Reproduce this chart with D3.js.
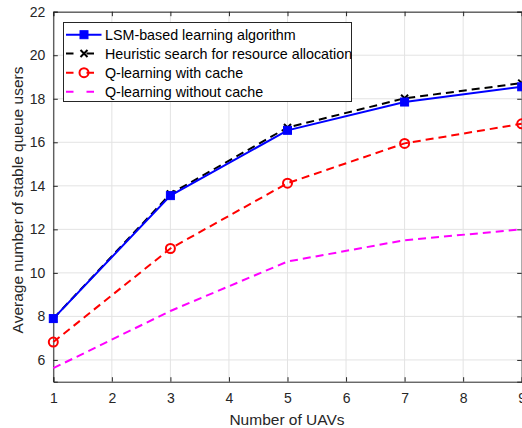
<!DOCTYPE html>
<html>
<head>
<meta charset="utf-8">
<script src="https://cdn.jsdelivr.net/npm/d3@7"></script>
<style>
  html, body { margin: 0; padding: 0; background: #fff; }
  svg { display: block; font-family: "Liberation Sans", Arial, sans-serif; }
</style>
</head>
<body>
<svg id="chart" width="522" height="428"></svg>
<script>
// === DATA ===
const uavs = [1, 3, 5, 7, 9];
const lsm = [7.9, 13.55, 16.55, 17.85, 18.55];
const heuristic = [7.9, 13.63, 16.68, 18.02, 18.72];
const qCache = [6.82, 11.12, 14.12, 15.95, 16.85];
const qNoCache = [5.62, 8.25, 10.52, 11.5, 12.0];
const xTicks = [1, 2, 3, 4, 5, 6, 7, 8, 9];
const yTicks = [6, 8, 10, 12, 14, 16, 18, 20, 22];
const legendLabels = [
  "LSM-based learning algorithm",
  "Heuristic search for resource allocation",
  "Q-learning with cache",
  "Q-learning without cache"
];

// === SETUP ===
const svg = d3.select("#chart");
const plotLeft = 53.3, plotRight = 521.7, plotTop = 11.7, plotBottom = 381.7;
const axisColor = "#262626";

const x = d3.scaleLinear().domain([1, 9]).range([plotLeft, plotRight]);
const y = d3.scaleLinear().domain([5, 22]).range([plotBottom, plotTop]);

// grid lines
const grid = svg.append("g");
xTicks.forEach(t => {
  grid.append("line")
    .attr("x1", x(t)).attr("x2", x(t)).attr("y1", plotTop).attr("y2", plotBottom)
    .attr("stroke", "#e3e3e3").attr("stroke-width", 1);
});
yTicks.forEach(t => {
  grid.append("line")
    .attr("x1", plotLeft).attr("x2", plotRight).attr("y1", y(t)).attr("y2", y(t))
    .attr("stroke", "#e3e3e3").attr("stroke-width", 1);
});

// axes (ticks pointing in, box on all four sides)
const tickLen = 4.5;
const xAxis = svg.append("g").attr("transform", `translate(0,${plotBottom})`)
  .call(d3.axisBottom(x).tickValues(xTicks).tickSize(-tickLen).tickPadding(11.5).tickFormat(d3.format("d")));
const yAxis = svg.append("g").attr("transform", `translate(${plotLeft},0)`)
  .call(d3.axisLeft(y).tickValues(yTicks).tickSize(-tickLen).tickPadding(8).tickFormat(d3.format("d")));
const xAxisTop = svg.append("g").attr("transform", `translate(0,${plotTop})`)
  .call(d3.axisTop(x).tickValues(xTicks).tickSize(-tickLen).tickFormat(""));
const yAxisRight = svg.append("g").attr("transform", `translate(${plotRight},0)`)
  .call(d3.axisRight(y).tickValues(yTicks).tickSize(-tickLen).tickFormat(""));

[xAxis, yAxis, xAxisTop, yAxisRight].forEach(a => {
  a.select(".domain").attr("stroke", axisColor).attr("stroke-width", 1);
  a.selectAll(".tick line").attr("stroke", axisColor);
  a.selectAll("text").attr("fill", axisColor).style("font-size", "14px")
    .style("font-family", "'Liberation Sans', Arial, sans-serif");
});

// axis labels
svg.append("text")
  .attr("x", 287).attr("y", 424.5)
  .attr("text-anchor", "middle")
  .attr("fill", axisColor).style("font-size", "15.5px")
  .text("Number of UAVs");
svg.append("text")
  .attr("transform", "translate(23,200) rotate(-90)")
  .attr("text-anchor", "middle")
  .attr("fill", axisColor).style("font-size", "15.5px")
  .text("Average number of stable queue users");

// === SERIES ===
const line = d3.line().x((d, i) => x(uavs[i])).y(d => y(d));
const series = [
  { values: qNoCache, color: "#ff00ff", dash: "8,5", marker: "none" },
  { values: qCache, color: "#ff0000", dash: "8,5", marker: "circle" },
  { values: heuristic, color: "#000000", dash: "8,5", marker: "x" },
  { values: lsm, color: "#0000ff", dash: null, marker: "square" }
];

function drawMarker(g, type, cx, cy, color) {
  if (type === "square") {
    g.append("rect").attr("x", cx - 4).attr("y", cy - 4).attr("width", 8).attr("height", 8)
      .attr("fill", color).attr("stroke", color).attr("stroke-width", 1);
  } else if (type === "circle") {
    g.append("circle").attr("cx", cx).attr("cy", cy).attr("r", 4.5)
      .attr("fill", "none").attr("stroke", color).attr("stroke-width", 2);
  } else if (type === "x") {
    g.append("path")
      .attr("d", `M${cx - 3.5},${cy - 3.5}L${cx + 3.5},${cy + 3.5}M${cx - 3.5},${cy + 3.5}L${cx + 3.5},${cy - 3.5}`)
      .attr("stroke", color).attr("stroke-width", 2).attr("fill", "none");
  }
}

series.forEach(s => {
  const g = svg.append("g");
  g.append("path").datum(s.values)
    .attr("d", line)
    .attr("fill", "none")
    .attr("stroke", s.color)
    .attr("stroke-width", 2)
    .attr("stroke-dasharray", s.dash);
  s.values.forEach((v, i) => drawMarker(g, s.marker, x(uavs[i]), y(v), s.color));
});

// === LEGEND ===
const legend = svg.append("g");
legend.append("rect")
  .attr("x", 63.5).attr("y", 22.5).attr("width", 288).attr("height", 79)
  .attr("fill", "#fff").attr("stroke", axisColor).attr("stroke-width", 1);
const legendOrder = [
  { color: "#0000ff", dash: null, marker: "square" },
  { color: "#000000", dash: "8,5", marker: "x" },
  { color: "#ff0000", dash: "8,5", marker: "circle" },
  { color: "#ff00ff", dash: "8,5", marker: "none" }
];
const rowY = [34.7, 53.5, 72.7, 91.7];
legendOrder.forEach((s, i) => {
  const ly = rowY[i];
  legend.append("line")
    .attr("x1", 66).attr("x2", 101.5).attr("y1", ly).attr("y2", ly)
    .attr("stroke", s.color).attr("stroke-width", 2)
    .attr("stroke-dasharray", s.dash ? "7.5,13" : null);
  drawMarker(legend, s.marker, 84, ly, s.color);
  legend.append("text")
    .attr("x", 105).attr("y", ly + 5)
    .attr("fill", "#000").style("font-size", "14.3px")
    .text(legendLabels[i]);
});
</script>
</body>
</html>
